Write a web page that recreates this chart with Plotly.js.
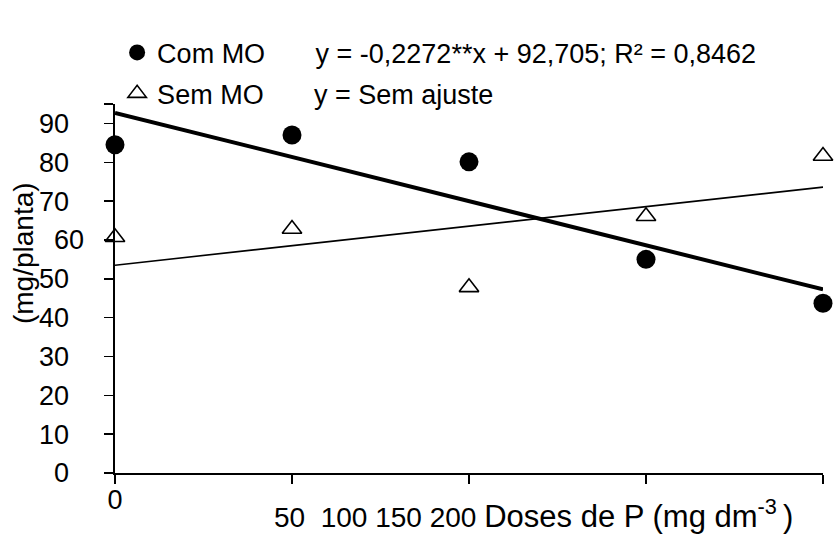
<!DOCTYPE html>
<html>
<head>
<meta charset="utf-8">
<script src="https://cdn.plot.ly/plotly-3.0.1.min.js"></script>
<style>html,body{margin:0;padding:0;background:#fff;}</style>
</head>
<body>
<div id="chart" style="width:834px;height:534px;"></div>
<script>
// Data
const doses = [0, 50, 100, 150, 200];
const comMO = [84.5, 87.0, 80.1, 55.0, 43.7];
const semMO = [60.7, 62.8, 47.8, 66.1, 81.6];
const comSlope = -0.2272;
const comIntercept = 92.705;
const fitX = [0, 200];
const semFitY = [53.5, 73.6];
const comName = 'Com MO\u00a0\u00a0\u00a0\u00a0\u00a0\u00a0\u2009y = -0,2272**x + 92,705; R² = 0,8462';
const semName = 'Sem MO\u00a0\u00a0\u00a0\u00a0\u00a0\u00a0\u2009y = Sem ajuste';
const yTickVals = [0, 10, 20, 30, 40, 50, 60, 70, 80, 90, 95];
const yTickText = ['0', '10', '20', '30', '40', '50', '60', '70', '80', '90', ''];
const xTickVals = [0, 50, 100, 150, 200];
const xTickText = ['0', '', '', '', ''];
const xTitleNums = '50\u00a0\u00a0100 150 200';
const xTitleWords = 'Doses de P (mg dm<sup>-3</sup>\u2009)';
const yTitle = '(mg/planta)';

const comFitY = fitX.map(x => comSlope * x + comIntercept);
const FONT = 'Liberation Sans, Arial, sans-serif';
// tick labels sit away from the axis in the original; "60" sits closer
const padFor = t => (t === '60' ? '\u00a0\u00a0' : '\u00a0\u00a0\u00a0\u00a0');

const traces = [
  {x: fitX, y: comFitY, mode: 'lines', line: {color: '#000', width: 4}, showlegend: false, cliponaxis: false, hoverinfo: 'skip'},
  {x: fitX, y: semFitY, mode: 'lines', line: {color: '#000', width: 1.6}, showlegend: false, cliponaxis: false, hoverinfo: 'skip'},
  {x: doses, y: comMO, mode: 'markers', name: comName, legend: 'legend',
   marker: {symbol: 'circle', size: 19, color: '#000'}, cliponaxis: false},
  {x: doses, y: semMO, mode: 'markers', name: semName, legend: 'legend2',
   marker: {symbol: 'triangle-up-open', size: 17, color: '#000', line: {color: '#000', width: 1.6}}, cliponaxis: false}
];

const layout = {
  width: 834, height: 534,
  margin: {l: 115, r: 11, t: 104, b: 61},
  paper_bgcolor: '#fff', plot_bgcolor: '#fff',
  font: {family: FONT, size: 27, color: '#000'},
  showlegend: true,
  legend: {x: 0.003, y: 1.205, xanchor: 'left', yanchor: 'top', bgcolor: 'rgba(0,0,0,0)',
           font: {family: FONT, size: 27, color: '#000'}, itemsizing: 'trace'},
  legend2: {x: 0.003, y: 1.094, xanchor: 'left', yanchor: 'top', bgcolor: 'rgba(0,0,0,0)',
           font: {family: FONT, size: 27, color: '#000'}, itemsizing: 'trace'},
  xaxis: {range: [0, 200], tickvals: xTickVals, ticktext: xTickText, ticks: 'outside', ticklen: 9,
          tickwidth: 1.5, tickcolor: '#000', showline: true, linecolor: '#000', linewidth: 1.6,
          showgrid: false, zeroline: false, ticklabelstandoff: -7,
          tickfont: {family: FONT, size: 27, color: '#000'}},
  yaxis: {range: [0, 95], tickvals: yTickVals, ticktext: yTickText.map(t => t ? t + padFor(t) : t),
          ticks: 'outside', ticklen: 9,
          tickwidth: 1.5, tickcolor: '#000', showline: true, linecolor: '#000', linewidth: 1.6,
          showgrid: false, zeroline: false,
          tickfont: {family: FONT, size: 27, color: '#000'}},
  annotations: [
    {xref: 'paper', yref: 'paper', x: 0.222, y: -0.112, xanchor: 'left', yanchor: 'middle',
     text: xTitleNums + ' <span style="font-size:31px">' + xTitleWords + '</span>', showarrow: false,
     font: {family: FONT, size: 28, color: '#000'}},
    {xref: 'paper', yref: 'paper', x: -0.130, y: 0.596, xanchor: 'center', yanchor: 'middle',
     textangle: -90, text: yTitle, showarrow: false, font: {family: FONT, size: 28, color: '#000'}}
  ]
};

Plotly.newPlot('chart', traces, layout, {displayModeBar: false, staticPlot: true});
</script>
</body>
</html>
